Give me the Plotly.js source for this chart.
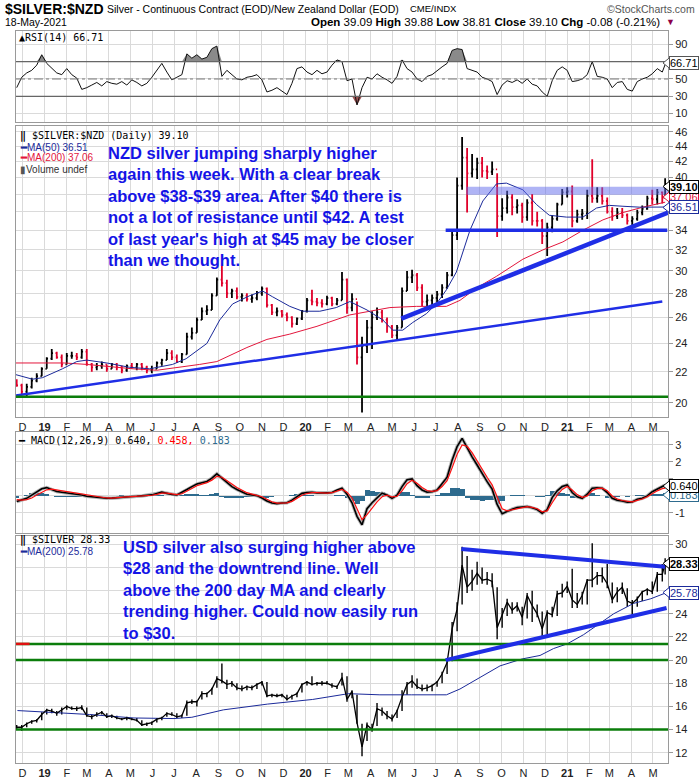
<!DOCTYPE html>
<html><head><meta charset="utf-8">
<script src="https://cdn.plot.ly/plotly-3.0.1.min.js"></script>
<style>html,body{margin:0;padding:0;background:#fff}#c{width:700px;height:780px}</style>
</head><body><div id="c"></div>
<script>
// ---------- DATA ----------
const firstFriday = '2018-11-23';
const lastSession = '2021-05-18';
const monthTicks = ['2018-12-01','2019-01-01','2019-02-01','2019-03-01','2019-04-01','2019-05-01','2019-06-01','2019-07-01','2019-08-01','2019-09-01','2019-10-01','2019-11-01','2019-12-01','2020-01-01','2020-02-01','2020-03-01','2020-04-01','2020-05-01','2020-06-01','2020-07-01','2020-08-01','2020-09-01','2020-10-01','2020-11-01','2020-12-01','2021-01-01','2021-02-01','2021-03-01','2021-04-01','2021-05-01'];
const monthLabels = ['D','<b>19</b>','F','M','A','M','J','J','A','S','O','N','D','<b>20</b>','F','M','A','M','J','J','A','S','O','N','D','<b>21</b>','F','M','A','M'];

// $SILVER:$NZD weekly bars
const nzdFirstOpen = 21.3;
const nzdHigh = [21.5,21.2,21.2,21.6,21.9,22.3,23.0,23.6,23.4,23.2, 23.3,23.4,23.3,23.6,23.6,22.6,22.6,22.7,22.5,22.6, 22.6,22.4,22.5,22.6,22.6,22.6,22.4,22.4,22.7,22.9, 23.6,23.5,23.2,23.3,24.8,25.2,26.0,26.8,27.0,28.0, 29.4,30.7,29.2,28.4,28.5,28.0,28.0,27.9,28.2,28.6, 28.5,27.1,26.8,26.6,26.4,26.1,26.0,26.6,27.6,28.3, 27.6,27.5,27.8,27.7,27.6,29.9,29.3,28.0,27.3,24.5, 25.8,26.5,26.8,26.6,26.0,25.4,25.4,28.5,30.0,30.1, 29.8,28.8,27.9,27.9,28.2,28.8,29.9,34.0,40.0,45.3, 43.8,43.0,42.5,42.6,41.5,42.0,40.5,37.5,38.4,38.0, 37.4,37.0,37.4,38.0,36.0,35.2,34.8,35.6,37.0,38.6, 38.8,39.0,36.2,36.3,38.5,42.3,38.8,38.8,37.6,36.5, 36.4,36.4,35.8,35.5,36.2,36.7,37.8,38.5,38.6,38.3, 39.88];
const nzdLow = [21.0,20.5,20.4,20.9,21.3,21.7,22.2,22.8,22.9,22.3, 22.5,22.9,22.8,22.9,22.4,22.0,22.1,22.2,22.0,22.2, 22.1,21.9,22.0,22.2,22.1,22.1,21.9,21.9,22.2,22.4, 22.8,22.8,22.6,22.6,23.2,24.3,24.8,25.8,26.2,26.6, 27.8,28.6,27.6,27.6,27.5,27.3,27.3,27.2,27.4,27.8, 26.8,26.2,26.1,26.0,25.7,25.2,25.4,25.8,26.4,27.0, 26.9,26.8,27.0,26.9,27.0,27.4,26.3,26.5,22.5,19.4, 23.3,23.6,25.8,25.6,24.8,24.4,24.2,25.2,28.2,28.9, 28.2,26.9,26.9,27.0,27.2,27.6,28.4,29.5,33.0,38.5, 35.9,40.0,39.8,40.0,39.8,40.3,33.3,35.0,35.8,35.6, 35.8,34.8,35.0,34.5,34.4,32.6,31.4,33.8,35.0,36.8, 37.6,34.3,34.8,35.1,35.2,37.0,37.0,36.8,35.8,35.0, 35.2,35.3,34.6,34.3,35.0,35.6,36.2,36.8,36.8,36.9, 37.5];
const nzdClose = [21.1,20.7,21.0,21.4,21.7,22.2,22.9,23.3,23.0,22.5, 23.1,23.1,23.0,23.4,22.5,22.3,22.4,22.5,22.2,22.5, 22.3,22.1,22.4,22.3,22.5,22.3,22.1,22.2,22.6,22.8, 23.3,23.0,22.7,23.2,24.5,24.8,25.8,26.5,26.6,27.8, 29.2,28.9,28.0,28.2,27.7,27.8,27.5,27.6,28.0,28.4, 27.0,26.4,26.5,26.2,26.0,25.5,25.9,26.5,27.4,27.3, 27.2,27.1,27.6,27.1,27.4,29.2,26.8,27.5,23.0,23.8, 25.2,26.0,26.4,25.8,25.3,24.6,25.2,28.2,29.4,29.6, 28.5,27.3,27.4,27.6,27.9,28.5,29.6,33.5,39.0,42.5, 40.5,41.0,41.8,40.8,40.7,41.0,35.5,36.4,37.6,36.5, 36.7,35.4,37.0,35.0,35.0,33.4,34.3,35.2,36.8,38.2, 38.3,35.0,35.7,35.8,37.8,37.5,37.8,37.2,36.0,35.5, 35.9,35.6,35.0,35.2,35.9,36.3,37.5,37.4,38.2,37.6, 39.10];

const nzdMa50Dates = ['2018-11-22','2018-12-15','2018-12-29','2019-01-26','2019-02-15','2019-03-01','2019-03-29','2019-04-30','2019-05-28','2019-06-29','2019-07-18','2019-08-16','2019-09-03','2019-09-21','2019-10-15','2019-11-02','2019-11-16','2019-12-10','2019-12-28','2020-01-21','2020-02-13','2020-03-03','2020-03-27','2020-04-18','2020-05-02','2020-05-16','2020-05-30','2020-06-18','2020-07-02','2020-07-16','2020-07-30','2020-08-18','2020-09-05','2020-09-24','2020-10-08','2020-10-31','2020-11-19','2020-12-07','2020-12-31','2021-01-23','2021-02-11','2021-03-01','2021-03-20','2021-04-12','2021-05-18'];
const nzdMa50 = [21.8,21.5,21.6,22.2,22.7,22.8,22.6,22.3,22.2,22.5,22.9,24.0,25.8,27.1,27.8,28.2,27.7,26.9,26.5,26.5,26.8,27.3,26.6,25.8,25.0,25.0,25.6,26.3,27.1,28.3,29.9,34.0,37.2,39.2,39.3,38.5,36.8,35.6,35.4,35.4,36.4,36.7,36.6,36.5,36.51];
const nzdMa200Dates = ['2018-11-22','2019-01-29','2019-03-01','2019-05-04','2019-06-07','2019-07-08','2019-08-06','2019-08-30','2019-09-21','2019-10-11','2019-11-08','2019-12-10','2020-01-17','2020-03-03','2020-03-31','2020-04-28','2020-06-04','2020-07-16','2020-08-04','2020-08-28','2020-09-24','2020-10-08','2020-10-31','2020-11-28','2020-12-26','2021-01-23','2021-02-20','2021-03-20','2021-04-17','2021-05-18'];
const nzdMa200 = [22.6,22.6,22.5,22.2,22.1,22.3,22.5,22.7,23.2,23.7,24.3,24.7,25.3,26.2,26.5,26.8,26.9,26.9,27.4,28.5,29.5,30.1,31.1,32.0,32.8,34.0,35.1,35.9,36.5,37.06];

// drawn lines on the NZD panel
const nzdSupport = 20.37;
const nzdLongTrendDates = ['2018-11-22','2021-05-14'], nzdLongTrend = [20.45,27.3];
const nzdSteepTrendDates = ['2020-05-14','2021-05-22'], nzdSteepTrend = [25.9,35.9];
const nzdFloorDates = ['2020-07-15','2021-05-21'], nzdFloor = 34.0;
const nzdBandDates = ['2020-08-13','2021-05-22'], nzdBand = 38.4;

// RSI(14)
const rsi = [40,52,57,60,66,78,68,62,57,55, 62,55,51,38,40,43,46,42,47,45, 44,47,43,49,46,42,45,52,60,68, 58,49,52,55,79,74,78,73,75,85, 88,53,60,55,50,49,52,53,55,49, 35,37,40,36,32,45,62,64,58,55, 60,56,58,66,72,70,48,50,20,40, 52,50,56,52,49,45,53,72,62,58, 50,47,53,55,60,64,68,83,85,84, 62,60,58,52,50,47,32,43,48,46, 49,45,50,44,42,35,30,48,60,64, 60,47,48,50,55,70,53,52,50,40, 46,47,38,36,47,50,52,56,62,58, 66.71];
const rsiLevels = [70,50,30];

// MACD(12,26,9)
const macd = [-0.33,-0.25,-0.14,0.05,0.25,0.42,0.49,0.38,0.26,0.22, 0.18,0.16,0.12,0.05,-0.02,-0.06,-0.10,-0.12,-0.14,-0.13, -0.10,-0.06,-0.04,-0.03,-0.02,0.00,0.03,0.06,0.14,0.22, 0.15,0.08,0.06,0.20,0.38,0.55,0.70,0.78,0.85,1.05, 1.30,1.05,0.80,0.55,0.38,0.22,0.10,0.06,0.02,-0.12, -0.30,-0.42,-0.45,-0.42,-0.40,-0.25,-0.05,0.15,0.20,0.22, 0.18,0.16,0.18,0.20,0.35,0.45,0.10,-0.40,-1.20,-1.70, -0.75,-0.40,-0.10,0.16,0.05,-0.14,0.05,0.55,0.95,1.00, 0.60,0.35,0.22,0.25,0.35,0.70,1.10,2.10,2.90,3.39, 2.80,2.30,1.82,1.30,0.84,0.40,-0.50,-1.05,-0.90,-0.78, -0.68,-0.63,-0.62,-0.70,-0.80,-1.02,-0.80,-0.10,0.30,0.55, 0.65,0.20,-0.05,-0.14,0.10,0.45,0.48,0.45,0.20,-0.14, -0.25,-0.30,-0.37,-0.35,-0.20,-0.14,0.00,0.25,0.40,0.55, 0.640];
const macdSignal = [-0.22,-0.25,-0.22,-0.12,0.05,0.22,0.36,0.40,0.35,0.29, 0.24,0.20,0.16,0.11,0.05,0.00,-0.05,-0.09,-0.12,-0.13, -0.12,-0.09,-0.06,-0.04,-0.03,-0.01,0.01,0.04,0.09,0.16, 0.16,0.11,0.08,0.13,0.27,0.44,0.60,0.70,0.78,0.93, 1.15,1.10,0.92,0.70,0.50,0.33,0.19,0.11,0.05,-0.05, -0.20,-0.34,-0.42,-0.43,-0.41,-0.32,-0.15,0.04,0.14,0.19, 0.19,0.17,0.17,0.19,0.28,0.38,0.22,-0.12,-0.75,-1.40, -1.10,-0.70,-0.35,-0.05,0.04,-0.06,-0.02,0.30,0.72,0.92, 0.75,0.50,0.32,0.27,0.31,0.55,0.90,1.65,2.45,3.00, 2.92,2.55,2.05,1.60,1.10,0.65,-0.05,-0.75,-0.88,-0.82, -0.72,-0.66,-0.63,-0.67,-0.75,-0.93,-0.88,-0.40,0.05,0.38, 0.55,0.35,0.08,-0.08,0.00,0.30,0.44,0.46,0.30,0.00, -0.18,-0.27,-0.33,-0.35,-0.26,-0.18,-0.05,0.14,0.30,0.43, 0.458];

// $SILVER (USD) weekly
const usdClose = [14.2,14.2,14.5,14.7,14.8,15.3,15.7,15.6,15.4,15.7, 16.0,15.8,15.8,15.9,15.2,15.1,15.3,15.5,15.1,15.2, 15.0,14.9,15.0,14.9,14.8,14.4,14.5,14.6,14.9,15.0, 15.4,15.3,15.1,15.2,16.3,16.4,16.4,17.1,17.1,17.5, 18.4,18.2,17.9,18.0,17.6,17.5,17.7,17.6,17.9,18.1, 16.9,17.0,16.9,17.0,16.6,16.9,17.1,17.9,18.1,17.9, 18.0,18.0,18.0,17.8,17.7,18.5,16.6,17.3,14.6,12.5, 14.4,14.0,15.8,15.6,15.2,14.9,15.6,16.8,17.9,18.2, 17.7,17.5,17.6,17.8,18.1,18.8,19.8,22.7,24.4,28.2, 26.3,26.8,27.5,26.9,27.0,26.8,22.8,23.9,25.0,24.3, 24.7,23.7,25.6,24.7,24.0,22.7,24.1,23.9,25.7,25.8, 26.4,25.2,24.8,25.6,26.9,26.9,27.3,27.3,26.6,25.2, 25.9,26.3,25.1,24.9,25.3,25.9,26.1,25.9,27.4,27.4, 28.33];
const usdHigh = [14.4,14.4,14.6,14.8,14.9,15.5,15.8,15.8,15.6,15.9, 16.1,16.0,16.0,16.1,15.9,15.3,15.5,15.6,15.4,15.3, 15.2,15.0,15.1,15.0,15.0,14.8,14.6,14.7,15.0,15.1, 15.5,15.5,15.4,15.3,16.5,16.6,16.5,17.3,17.2,17.6, 18.6,19.7,18.3,18.2,18.0,17.8,17.8,17.8,18.0,18.2, 18.1,17.1,17.1,17.1,17.0,17.0,17.2,18.0,18.2,18.6, 18.1,18.2,18.2,18.0,17.8,18.9,18.6,17.4,17.0,14.5, 14.6,14.5,16.3,15.9,15.6,15.3,15.7,17.4,18.1,18.7, 18.4,17.9,17.9,17.9,18.2,19.0,20.0,23.3,25.0,29.8, 29.0,27.8,28.5,28.0,27.6,27.5,26.3,24.5,25.3,25.0, 25.0,24.6,25.8,26.0,24.8,24.2,24.3,24.6,26.0,26.6, 26.8,27.9,25.8,25.9,27.0,30.1,27.6,28.0,28.3,26.7, 26.3,26.7,26.2,25.2,25.5,26.0,26.2,26.8,27.6,28.3, 28.8];
const usdLow = [14.0,13.9,14.2,14.5,14.6,14.8,15.3,15.4,15.2,15.3, 15.7,15.7,15.6,15.7,15.1,14.9,15.1,15.3,15.0,15.0, 14.9,14.8,14.8,14.8,14.7,14.3,14.3,14.4,14.6,14.8, 15.1,15.2,15.0,15.0,15.2,16.2,16.0,16.6,16.8,17.0, 17.6,18.0,17.5,17.7,17.4,17.3,17.4,17.4,17.5,17.8, 16.8,16.8,16.8,16.8,16.5,16.6,16.8,17.2,17.8,17.8, 17.8,17.8,17.9,17.6,17.5,17.8,16.4,16.7,14.5,11.7, 13.0,13.8,14.3,15.2,14.9,14.7,15.0,15.6,17.0,17.6, 17.5,17.3,17.3,17.3,17.7,18.0,18.8,19.9,22.5,24.8, 25.8,26.0,26.5,26.6,26.5,26.3,21.8,22.8,23.8,24.0, 24.2,23.0,23.6,23.3,23.7,22.0,22.2,23.7,23.8,25.4, 25.8,24.5,24.5,24.8,24.8,26.3,26.5,26.7,26.2,24.9, 25.0,25.7,24.6,23.8,24.6,25.1,25.6,25.7,25.9,26.8, 27.4];
const usdMa200Dates = ['2018-11-24','2019-01-02','2019-03-05','2019-05-06','2019-07-01','2019-07-26','2019-09-08','2019-11-09','2020-01-11','2020-03-01','2020-04-14','2020-05-28','2020-07-16','2020-08-04','2020-09-04','2020-09-29','2020-10-30','2020-11-24','2020-12-13','2021-01-01','2021-01-24','2021-02-12','2021-03-07','2021-04-04','2021-04-28','2021-05-18'];
const usdMa200 = [15.64,15.5,15.3,15.0,14.95,15.06,15.7,16.2,16.6,17.1,17.0,17.0,17.0,17.5,18.6,19.5,20.1,20.4,21.0,21.4,22.2,23.0,24.0,24.9,25.3,25.78];
const usdLevels = [21.4,20.0,14.0];
const usdDownTrendDates = ['2020-08-06','2021-05-18'], usdDownTrend = [29.6,28.06];
const usdUpTrendDates = ['2020-07-15','2021-05-20'], usdUpTrend = [20.0,24.5];

// axis tick labels (blank where the value tags cover them)
const rsiTicks = [10,30,50,70,90], rsiTickText = ['10','30','50','','90'];
const nzdTicks = [20,22,24,26,28,30,32,34,36,38,40,42,44,46], nzdTickText = ['20','22','24','26','28','30','32','34','','','40','42','44','46'];
const macdTicks = [-1,0,1,2,3], macdTickText = ['-1','','','2','3'];
const usdTicks = [12,14,16,18,20,22,24,26,28,30], usdTickText = ['12','14','16','18','20','22','24','','','30'];

// ---------- BUILD ----------
function weeklyDates(first,count,last){const out=[];const t0=Date.parse(first+'T00:00:00Z');for(let i=0;i<count;i++){out.push(new Date(t0+i*604800000).toISOString().slice(0,10));}out.push(last);return out;}
const dates = weeklyDates(firstFriday,130,lastSession);
const nzdOpen = [nzdFirstOpen].concat(nzdClose.slice(0,-1));
const usdOpen = [usdClose[0]].concat(usdClose.slice(0,-1));
const macdHist = macd.map((v,i)=>v-macdSignal[i]);
const fullSpan = ['2018-11-10','2021-06-05'];

const W=700,H=780,L=16,R=32;
const fx = px => (px-L)/(W-L-R);
const fy = py => 1-py/H;
const BLUE='#1f2ee6', GREEN='#0b7d0b';
const sk={hoverinfo:'skip',showlegend:false};
function line(x,y,xa,ya,color,width,extra){return Object.assign({type:'scatter',mode:'lines',x:x,y:y,xaxis:xa,yaxis:ya,line:{color:color,width:width},cliponaxis:true},sk,extra||{});}

const traces = [];
// RSI
traces.push(line(dates,rsi.map(()=>70),'x','y','rgba(0,0,0,0)',0));
traces.push(line(dates,rsi.map(v=>Math.max(v,70)),'x','y','rgba(0,0,0,0)',0,{fill:'tonexty',fillcolor:'#8a8a8a'}));
traces.push(line(dates,rsi.map(()=>30),'x','y','rgba(0,0,0,0)',0));
traces.push(line(dates,rsi.map(v=>Math.min(v,30)),'x','y','rgba(0,0,0,0)',0,{fill:'tonexty',fillcolor:'#9c5252'}));
traces.push(line(dates,rsi,'x','y','#111',1));
// NZD main
traces.push(line(nzdMa200Dates,nzdMa200,'x2','y2','#e3163c',1));
traces.push(line(nzdMa50Dates,nzdMa50,'x2','y2','#1b2a9a',1));
traces.push(Object.assign({type:'ohlc',x:dates,open:nzdOpen,high:nzdHigh,low:nzdLow,close:nzdClose,xaxis:'x2',yaxis:'y2',tickwidth:0.45,
  increasing:{line:{color:'#000',width:1.8}},decreasing:{line:{color:'#e0002a',width:1.8}}},sk));
traces.push(line(nzdBandDates,[nzdBand,nzdBand],'x2','y2','rgba(95,105,235,0.5)',8));
traces.push(line(nzdFloorDates,[nzdFloor,nzdFloor],'x2','y2',BLUE,3.5));
traces.push(line(nzdSteepTrendDates,nzdSteepTrend,'x2','y2',BLUE,4.5));
traces.push(line(nzdLongTrendDates,nzdLongTrend,'x2','y2',BLUE,2.5));
traces.push(line(fullSpan,[nzdSupport,nzdSupport],'x2','y2',GREEN,2.5));
// MACD
traces.push(Object.assign({type:'bar',x:dates,y:macdHist,xaxis:'x3',yaxis:'y3',width:604800000,marker:{color:'#2e6b8e',line:{width:0}}},sk));
traces.push(line(dates,macd,'x3','y3','#b5b5b5',3.5));
traces.push(line(dates,macd,'x3','y3','#000',1.6));
traces.push(line(dates,macdSignal,'x3','y3','#ff1010',1.2));
// USD
traces.push(line(usdMa200Dates,usdMa200,'x4','y4','#1b2a9a',1));
traces.push(Object.assign({type:'ohlc',x:dates,open:usdOpen,high:usdHigh,low:usdLow,close:usdClose,xaxis:'x4',yaxis:'y4',tickwidth:0,
  increasing:{line:{color:'#000',width:1.4}},decreasing:{line:{color:'#000',width:1.4}}},sk));
traces.push(line(dates,usdClose,'x4','y4','#000',1.3));
usdLevels.forEach(v=>traces.push(line(fullSpan,[v,v],'x4','y4',GREEN,2.5)));
traces.push(line(['2018-11-22','2018-12-11'],[usdLevels[0],usdLevels[0]],'x4','y4','#e01010',2.5));
traces.push(line(usdDownTrendDates,usdDownTrend,'x4','y4',BLUE,4));
traces.push(line(usdUpTrendDates,usdUpTrend,'x4','y4',BLUE,4));

const tickFont={family:'Liberation Sans, Arial, sans-serif',size:11,color:'#222'};
function xax(anchor,labels){return {anchor:anchor,domain:[0,1],range:['2018-11-22','2021-05-22'],type:'date',tickmode:'array',tickvals:monthTicks,ticktext:monthLabels,
  showticklabels:labels,ticks:'',showgrid:true,gridcolor:'#dadada',gridwidth:1,showline:true,linecolor:'#9a9a9a',linewidth:1,mirror:true,zeroline:false,
  rangeslider:{visible:false},tickfont:tickFont,fixedrange:true,automargin:false};}
function yax(domain,range,tickvals,ticktext,type){return {domain:domain,range:range,type:type||'linear',side:'right',tickmode:'array',tickvals:tickvals,ticktext:ticktext,
  ticks:'outside',ticklen:4,tickcolor:'#999',showgrid:true,gridcolor:'#dadada',gridwidth:1,showline:true,linecolor:'#9a9a9a',linewidth:1,mirror:true,
  zeroline:false,tickfont:tickFont,fixedrange:true,automargin:false};}

const shapes=[];
shapes.push({type:'line',xref:'x',yref:'y',x0:'2018-11-22',x1:'2021-05-22',y0:rsiLevels[0],y1:rsiLevels[0],line:{color:'#666',width:1.2}});
shapes.push({type:'line',xref:'x',yref:'y',x0:'2018-11-22',x1:'2021-05-22',y0:rsiLevels[1],y1:rsiLevels[1],line:{color:'#777',width:1,dash:'dashdot'}});
shapes.push({type:'line',xref:'x',yref:'y',x0:'2018-11-22',x1:'2021-05-22',y0:rsiLevels[2],y1:rsiLevels[2],line:{color:'#666',width:1.2}});

const anns=[];
function ann(x,y,text,font,opt){return Object.assign({xref:'paper',yref:'paper',x:fx(x),y:fy(y),text:text,showarrow:false,xanchor:'left',yanchor:'middle',font:font},opt||{});}
const arial='Liberation Sans, Arial, sans-serif';
const mono='DejaVu Sans Mono, monospace';
anns.push(ann(3,9,'<b>$SILVER:$NZD</b>',{family:arial,size:14,color:'#000'}));
anns.push(ann(105,9,'Silver - Continuous Contract (EOD)/New Zealand Dollar (EOD)',{family:arial,size:10.5,color:'#000'}));
anns.push(ann(408,9,'CME/INDX',{family:arial,size:9.5,color:'#000'}));
anns.push(ann(697,9,'©StockCharts.com',{family:arial,size:10.5,color:'#555'},{xanchor:'right'}));
anns.push(ann(3,22,'18-May-2021',{family:arial,size:10.5,color:'#000'}));
anns.push(ann(662,22,'<b>Open</b> 39.09 <b>High</b> 39.88 <b>Low</b> 38.81 <b>Close</b> 39.10 <b>Chg</b> -0.08 (-0.21%)',{family:arial,size:11.5,color:'#000'},{xanchor:'right'}));
anns.push(ann(664,22,'▼',{family:arial,size:9,color:'#8c0048'}));
// panel legends
anns.push(ann(17,37,'<b>▲</b>RSI(14) 66.71',{family:mono,size:10,color:'#000'}));
anns.push(ann(18,136,'<b>‖</b> $SILVER:$NZD (Daily) 39.10',{family:mono,size:10,color:'#000'}));
anns.push(ann(18,147,'<b>━</b>MA(50) 36.51',{family:arial,size:10,color:'#1b2a9a'}));
anns.push(ann(18,158,'<b>━</b>MA(200) 37.06',{family:arial,size:10,color:'#e3163c'}));
anns.push(ann(18,169,'<span style="color:#555">▮</span>Volume undef',{family:arial,size:10,color:'#333'}));
anns.push(ann(16,440,'<b>━</b> MACD(12,26,9) 0.640, <span style="color:#ff0000">0.458,</span> <span style="color:#2e6b8e">0.183</span>',{family:mono,size:10,color:'#000'}));
anns.push(ann(18,540,'<b>‖</b> $SILVER 28.33',{family:mono,size:10,color:'#000'}));
anns.push(ann(18,551,'<b>━</b>MA(200) 25.78',{family:arial,size:10,color:'#1b2a9a'}));
// commentary
const blueText={family:arial,size:16.5,color:'#1414e6'};
anns.push(ann(106,142,'<b>NZD silver jumping sharply higher<br>again this week. With a clear break<br>above $38-$39 area. After $40 there is<br>not a lot of resistance until $42. A test<br>of last year\'s high at $45 may be closer<br>than we thought.</b>',blueText,{yanchor:'top',align:'left'}));
anns.push(ann(121,536,'<b>USD silver also surging higher above<br>$28 and the downtrend line. Well<br>above the 200 day MA and clearly<br>trending higher. Could now easily run<br>to $30.</b>',blueText,{yanchor:'top',align:'left'}));
// right-side value tags
function tag(y,text,color,txtColor,bold){
  shapes.push({type:'path',xref:'paper',yref:'paper',layer:'above',path:`M ${fx(663)},${fy(y)} L ${fx(670.5)},${fy(y-6)} L ${fx(670.5)},${fy(y+6)} Z`,fillcolor:'#fff',line:{color:color,width:1}});
  anns.push(ann(669,y,bold?'<b>'+text+'</b>':text,{family:arial,size:11,color:txtColor},{bgcolor:'#fff',bordercolor:color,borderwidth:1,borderpad:0}));
}
tag(63,'66.71','#555','#000',false);
tag(197,'37.06','#e3163c','#e3163c',false);
tag(186.5,'39.10','#000','#000',true);
tag(207.5,'36.51','#1b2a9a','#1b2a9a',false);
tag(495,'0.183','#2e6b8e','#2e6b8e',false);
tag(486,'0.640','#000','#000',false);
tag(592.5,'25.78','#1b2a9a','#1b2a9a',false);
tag(563.5,'28.33','#000','#000',true);

const layout={width:W,height:H,margin:{l:L,r:R,t:0,b:0,pad:0},paper_bgcolor:'#fff',plot_bgcolor:'#fff',showlegend:false,hovermode:false,bargap:0,
  xaxis:xax('y',false), yaxis:yax([fy(122),fy(31)],[0.35,105.4],rsiTicks,rsiTickText),
  xaxis2:xax('y2',true), yaxis2:yax([fy(417),fy(126)],[Math.log10(19.14),Math.log10(46.85)],nzdTicks,nzdTickText,'log'),
  xaxis3:xax('y3',false), yaxis3:yax([fy(533),fy(432)],[-2.18,3.76],macdTicks,macdTickText),
  xaxis4:xax('y4',true), yaxis4:yax([fy(763),fy(536)],[11.11,30.72],usdTicks,usdTickText),
  shapes:shapes, annotations:anns};
Plotly.newPlot('c',traces,layout,{staticPlot:true,displayModeBar:false});
</script></body></html>
